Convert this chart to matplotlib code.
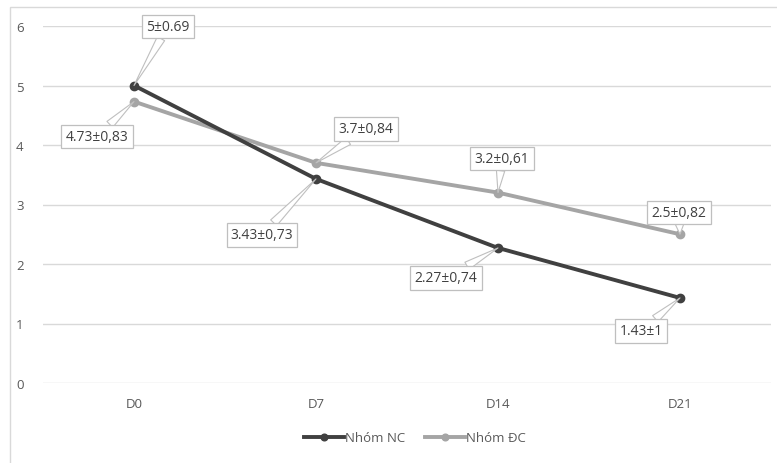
import matplotlib.pyplot as plt
from matplotlib.patches import Rectangle

categories = ["D0", "D7", "D14", "D21"]
nc_values = [5.0, 3.43, 2.27, 1.43]
dc_values = [4.73, 3.7, 3.2, 2.5]
nc_labels = ["5±0.69", "3.43±0,73", "2.27±0,74", "1.43±1"]
dc_labels = ["4.73±0,83", "3.7±0,84", "3.2±0,61", "2.5±0,82"]
series_names = ["Nhóm NC", "Nhóm ĐC"]

plt.rcParams['font.family'] = ['Open Sans', 'DejaVu Sans']

W, H = 777, 464
fig = plt.figure(figsize=(W / 100, H / 100), dpi=100)
ax = fig.add_axes([43 / W, 1 - 384 / H, (771 - 43) / W, (384 - 27) / H])

# outer chart border (top/left visible)
fig.patches.append(Rectangle((10 / W, -0.05), 1.2, (H - 8) / H + 0.05,
                             transform=fig.transFigure, fill=False,
                             ec='#d9d9d9', lw=1.0))

x = list(range(len(categories)))
nc_col = '#404040'
dc_col = '#a5a5a5'
ax.plot(x, nc_values, color=nc_col, lw=2.8, marker='o', ms=6, label=series_names[0], zorder=4)
ax.plot(x, dc_values, color=dc_col, lw=2.8, marker='o', ms=6, label=series_names[1], zorder=3)

ax.set_xlim(-0.5, 3.5)
ax.set_ylim(0, 6)
ax.set_yticks(range(0, 7))
ax.set_xticks(x)
ax.set_xticklabels(categories)
ax.grid(axis='y', color='#d9d9d9', lw=1)
ax.set_axisbelow(True)
for s in ax.spines.values():
    s.set_visible(False)
ax.tick_params(length=0, colors='#595959', labelsize=9.5)
ax.tick_params(axis='y', pad=14)
ax.tick_params(axis='x', pad=10)

nc_off = [(34, 59), (-54, -56), (-52, -30), (-39, -33)]
dc_off = [(-37, -35), (50, 34), (4, 34), (-1, 22)]

def label(xi, yi, txt, off):
    ax.annotate(txt, xy=(xi, yi), xytext=off, textcoords='offset pixels',
                ha='center', va='center', fontsize=10, color='#404040',
                bbox=dict(boxstyle='square,pad=0.3', fc='white', ec='#bfbfbf', lw=0.9),
                arrowprops=dict(arrowstyle='wedge,tail_width=0.6,shrink_factor=0.5',
                                fc='white', ec='#bfbfbf', lw=0.8, shrinkA=0, shrinkB=0),
                zorder=6)

for i in x:
    label(i, nc_values[i], nc_labels[i], nc_off[i])
    label(i, dc_values[i], dc_labels[i], dc_off[i])

leg = fig.legend(loc='center', bbox_to_anchor=(415 / W, 1 - 439 / H), ncol=2,
                 frameon=False, fontsize=9.5, handlelength=3, columnspacing=1.5,
                 handletextpad=0.1, labelcolor='#595959', markerscale=0.8)

fig.savefig('out.png', dpi=100)
